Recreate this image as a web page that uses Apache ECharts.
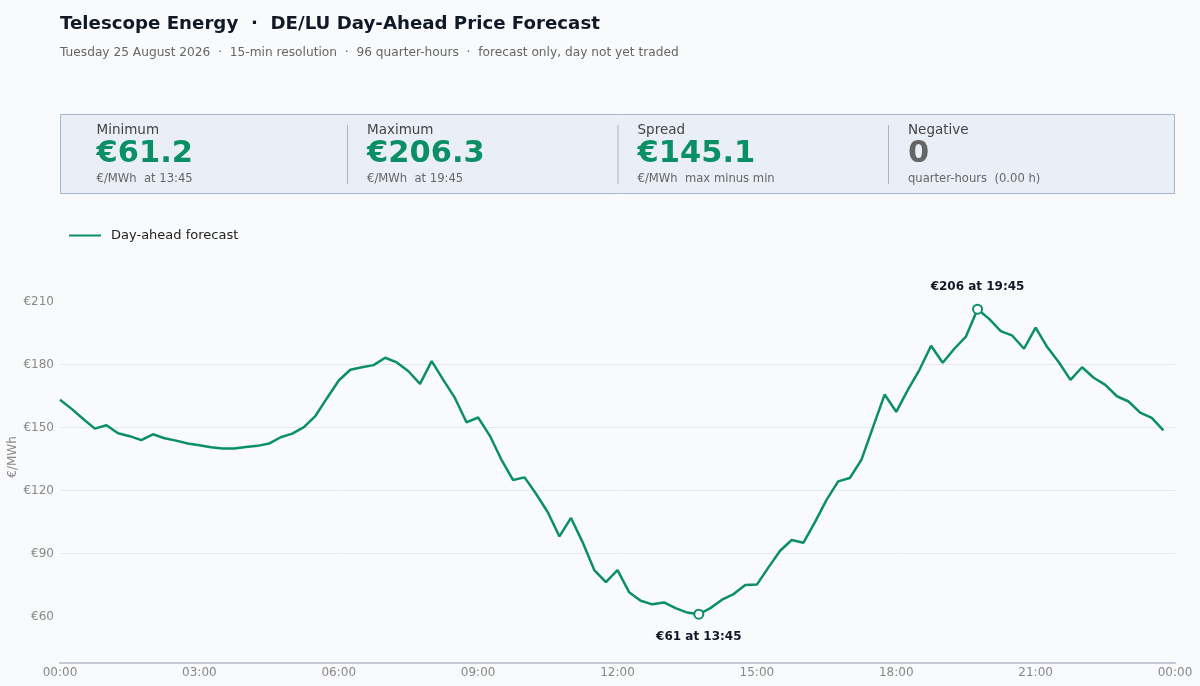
<!DOCTYPE html>
<html>
<head>
<meta charset="utf-8">
<script src="https://cdn.jsdelivr.net/npm/echarts@6.0.0/dist/echarts.min.js"></script>
<style>
  html, body { margin: 0; padding: 0; background: #f9fafb; }
  #chart { width: 1200px; height: 686px; }
</style>
</head>
<body>
<div id="chart"></div>
<script>
// ---- Data ----
const chartTitle = 'Telescope Energy  \u00b7  DE/LU Day-Ahead Price Forecast';
const chartSubtitle = 'Tuesday 25 August 2026  \u00b7  15-min resolution  \u00b7  96 quarter-hours  \u00b7  forecast only, day not yet traded';
const seriesName = 'Day-ahead forecast';

// quarter-hour categories 00:00 ... 23:45, plus closing 24:00 boundary
const quarterHours = [];
for (let h = 0; h < 24; h++) {
  for (let m = 0; m < 60; m += 15) {
    quarterHours.push(String(h).padStart(2, '0') + ':' + String(m).padStart(2, '0'));
  }
}
const axisCategories = quarterHours.concat(['24:00']);

// EUR/MWh per quarter-hour
const priceForecast = [
  163.2, 158.9, 154.1, 149.5, 151.1, 147.3, 145.9, 144.0, 146.8, 144.9,
  143.8, 142.4, 141.6, 140.6, 140.1, 140.0, 140.8, 141.3, 142.4, 145.4,
  147.1, 150.2, 155.6, 164.1, 172.4, 177.5, 178.7, 179.7, 183.2, 181.0,
  176.8, 170.8, 181.6, 172.7, 164.1, 152.5, 154.8, 146.2, 134.8, 125.1,
  126.3, 118.4, 109.7, 98.2, 107.0, 95.4, 82.2, 76.5, 82.2, 71.7,
  67.6, 65.9, 66.8, 64.1, 62.0, 61.2, 64.1, 68.1, 70.8, 75.1,
  75.3, 83.5, 91.4, 96.5, 95.2, 105.0, 115.6, 124.4, 126.0, 134.6,
  150.2, 165.7, 157.5, 167.9, 177.5, 188.9, 180.8, 187.5, 193.3, 206.3,
  201.7, 195.9, 193.7, 187.5, 197.5, 188.3, 181.1, 172.7, 178.7, 173.7,
  170.3, 164.9, 162.4, 157.1, 154.6, 148.7
];

const yTickValues = [60, 90, 120, 150, 180, 210];

// ---- Derived KPI values ----
let minIdx = 0, maxIdx = 0;
priceForecast.forEach((v, i) => {
  if (v < priceForecast[minIdx]) minIdx = i;
  if (v > priceForecast[maxIdx]) maxIdx = i;
});
const minVal = priceForecast[minIdx];
const maxVal = priceForecast[maxIdx];
const spreadVal = maxVal - minVal;
const negCount = priceForecast.filter(v => v < 0).length;

// ---- Styling ----
const FONT = 'DejaVu Sans';
const GREEN = '#0a8f66';
const bg = '#f9fafb';

const kpis = [
  { label: 'Minimum', value: '\u20ac' + minVal.toFixed(1), sub: '\u20ac/MWh  at ' + quarterHours[minIdx], color: GREEN },
  { label: 'Maximum', value: '\u20ac' + maxVal.toFixed(1), sub: '\u20ac/MWh  at ' + quarterHours[maxIdx], color: GREEN },
  { label: 'Spread', value: '\u20ac' + spreadVal.toFixed(1), sub: '\u20ac/MWh  max minus min', color: GREEN },
  { label: 'Negative', value: String(negCount), sub: 'quarter-hours  (' + (negCount * 0.25).toFixed(2) + ' h)', color: '#666666' }
];

const graphics = [];
graphics.push({
  type: 'rect', z: 0,
  shape: { x: 60.5, y: 114.5, width: 1114, height: 79 },
  style: { fill: '#e9eef7', stroke: '#a9b3c9', lineWidth: 1 }
});
const colStart = 76.5, colW = 270.5;
kpis.forEach((k, i) => {
  const x0 = colStart + i * colW;
  if (i > 0) {
    graphics.push({
      type: 'line', z: 1,
      shape: { x1: x0 + 0.5, y1: 125, x2: x0 + 0.5, y2: 184 },
      style: { stroke: '#aab2c6', lineWidth: 1 }
    });
  }
  const tx = x0 + 20;
  graphics.push({
    type: 'text', z: 2, x: tx, y: 130,
    style: { text: k.label, fontFamily: FONT, fontSize: 13.5, fill: '#444444', verticalAlign: 'middle' }
  });
  graphics.push({
    type: 'text', z: 2, x: tx, y: 154.5,
    style: { text: k.value, fontFamily: FONT, fontSize: 30.5, fontWeight: 'bold', fill: k.color, verticalAlign: 'middle' }
  });
  graphics.push({
    type: 'text', z: 2, x: tx, y: 178.5,
    style: { text: k.sub, fontFamily: FONT, fontSize: 11.6, fill: '#666666', verticalAlign: 'middle' }
  });
});

const markLabel = (idx, pos) => ({
  coord: [quarterHours[idx], priceForecast[idx]],
  value: priceForecast[idx],
  label: {
    position: pos,
    distance: 11,
    formatter: '\u20ac' + Math.round(priceForecast[idx]) + ' at ' + quarterHours[idx]
  }
});

const chart = echarts.init(document.getElementById('chart'), null, { renderer: 'canvas' });
chart.setOption({
  backgroundColor: bg,
  animation: false,
  textStyle: { fontFamily: FONT },
  title: {
    text: chartTitle,
    subtext: chartSubtitle,
    left: 55,
    top: 10,
    itemGap: 14,
    textStyle: { fontFamily: FONT, fontSize: 18.2, fontWeight: 'bold', color: '#111827' },
    subtextStyle: { fontFamily: FONT, fontSize: 12.2, color: '#666666' }
  },
  graphic: graphics,
  legend: {
    left: 64,
    top: 224,
    itemWidth: 32,
    itemHeight: 14,
    itemGap: 10,
    textStyle: { fontFamily: FONT, fontSize: 13, color: '#222222', padding: [0, 0, 0, 5] },
    data: [{ name: seriesName, icon: 'path://M0,6 L32,6 L32,8 L0,8 Z' }]
  },
  grid: { left: 60, right: 25, top: 251, bottom: 23, containLabel: false, outerBoundsMode: 'none' },
  xAxis: {
    type: 'category',
    data: axisCategories,
    boundaryGap: false,
    axisLine: { show: true, lineStyle: { color: '#c3c7d6', width: 2 } },
    axisTick: { show: false },
    axisLabel: {
      interval: 11,
      color: '#888888',
      fontSize: 12,
      fontFamily: FONT,
      margin: 4,
      formatter: v => (v === '24:00' ? '00:00' : v)
    },
    splitLine: { show: false }
  },
  yAxis: {
    type: 'value',
    min: 38,
    max: 234,
    name: '\u20ac/MWh',
    nameLocation: 'middle',
    nameGap: 41,
    nameMoveOverlap: false,
    nameTextStyle: { color: '#888888', fontSize: 12, fontFamily: FONT },
    axisLine: { show: false },
    axisTick: { show: false, customValues: yTickValues },
    axisLabel: {
      color: '#888888',
      fontSize: 12,
      fontFamily: FONT,
      margin: 6,
      customValues: yTickValues,
      formatter: v => '\u20ac' + v
    },
    splitLine: { show: true, showMinLine: false, showMaxLine: false, lineStyle: { color: '#e3e8f2', width: 1 } }
  },
  series: [{
    name: seriesName,
    type: 'line',
    data: priceForecast,
    symbol: 'none',
    lineStyle: { color: GREEN, width: 2.5 },
    itemStyle: { color: GREEN },
    markPoint: {
      symbol: 'circle',
      symbolSize: 9,
      itemStyle: { color: '#ffffff', borderColor: GREEN, borderWidth: 2 },
      label: {
        show: true,
        color: '#111827',
        fontSize: 12,
        fontWeight: 'bold',
        fontFamily: FONT
      },
      data: [markLabel(maxIdx, 'top'), markLabel(minIdx, 'bottom')]
    }
  }]
});
</script>
</body>
</html>
